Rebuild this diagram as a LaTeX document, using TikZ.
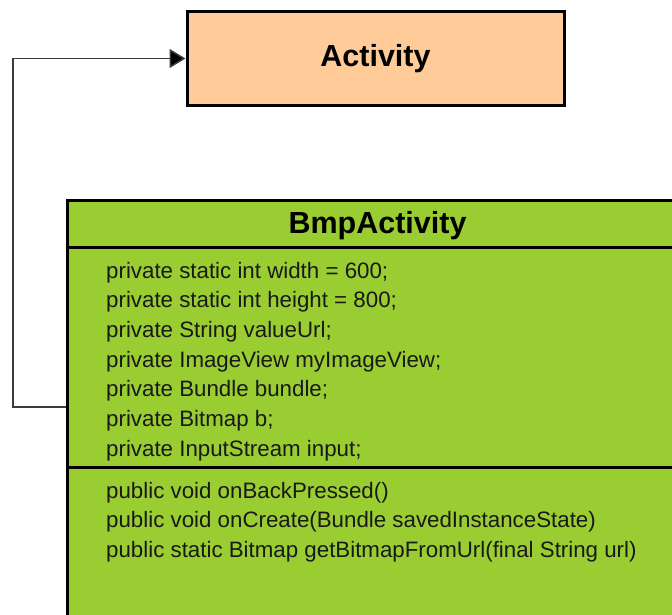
\documentclass[tikz,border=0pt]{standalone}
\usepackage{fontspec}
\setmainfont{Liberation Sans}
\usetikzlibrary{arrows.meta, positioning, calc}
\definecolor{peach}{RGB}{255, 204, 153}
\definecolor{leaf}{RGB}{154, 205, 50}
\definecolor{wire}{RGB}{60, 60, 60}

\tikzset{
    box/.style={draw=black, line width=3pt, inner sep=0pt},
    title/.style={font=\fontsize{30.5}{34}\selectfont\bfseries},
    member/.style={font=\fontsize{22.3}{26}\selectfont, text=black!90, inner sep=0pt, anchor=base west},
    conn/.style={draw=wire, line width=1.5pt, -{Triangle[length=16pt, width=19pt, fill=black]}}
}

\begin{document}
\begin{tikzpicture}[x=1pt, y=1pt]
    \useasboundingbox (0,0) rectangle (672,-614);
    \clip (0,0) rectangle (672,-614);

    % Parent class
    \node[box, fill=peach, minimum width=377, minimum height=94, anchor=north west] (activity) at (185.5,-10) {};
    \node[title] (activityname) at (activity.center) {Activity};

    % Child class, runs off the page on the right and at the bottom
    \node[box, fill=leaf, minimum width=620, minimum height=450, anchor=north west] (bmp) at (66,-199) {};
    \node[title] (bmpname) at ($(bmp.north)+(0,-27)$) {BmpActivity};
    \draw[line width=3pt] ($(bmp.north west)+(0,-48)$) -- ($(bmp.north east)+(0,-48)$);
    \draw[line width=3pt] ($(bmp.north west)+(0,-268)$) -- ($(bmp.north east)+(0,-268)$);

    % Fields
    \foreach \txt [count=\i] in {private static int width = 600;, private static int height = 800;,
        private String valueUrl;, private ImageView myImageView;, private Bundle bundle;,
        private Bitmap b;, private InputStream input;}
        \node[member] (field\i) at (106, -278-29.7*\i+29.7) {\txt};

    % Methods
    \foreach \txt [count=\i] in {public void onBackPressed(), public void onCreate(Bundle savedInstanceState),
        public static Bitmap getBitmapFromUrl(final String url)}
        \node[member] (method\i) at (106, -498-29.7*\i+29.7) {\txt};

    % Inheritance
    \coordinate (from) at ($(bmp.north west)+(0,-208)$);
    \draw[conn] (from) -- ++(-53,0) |- (activity.west);
\end{tikzpicture}
\end{document}
